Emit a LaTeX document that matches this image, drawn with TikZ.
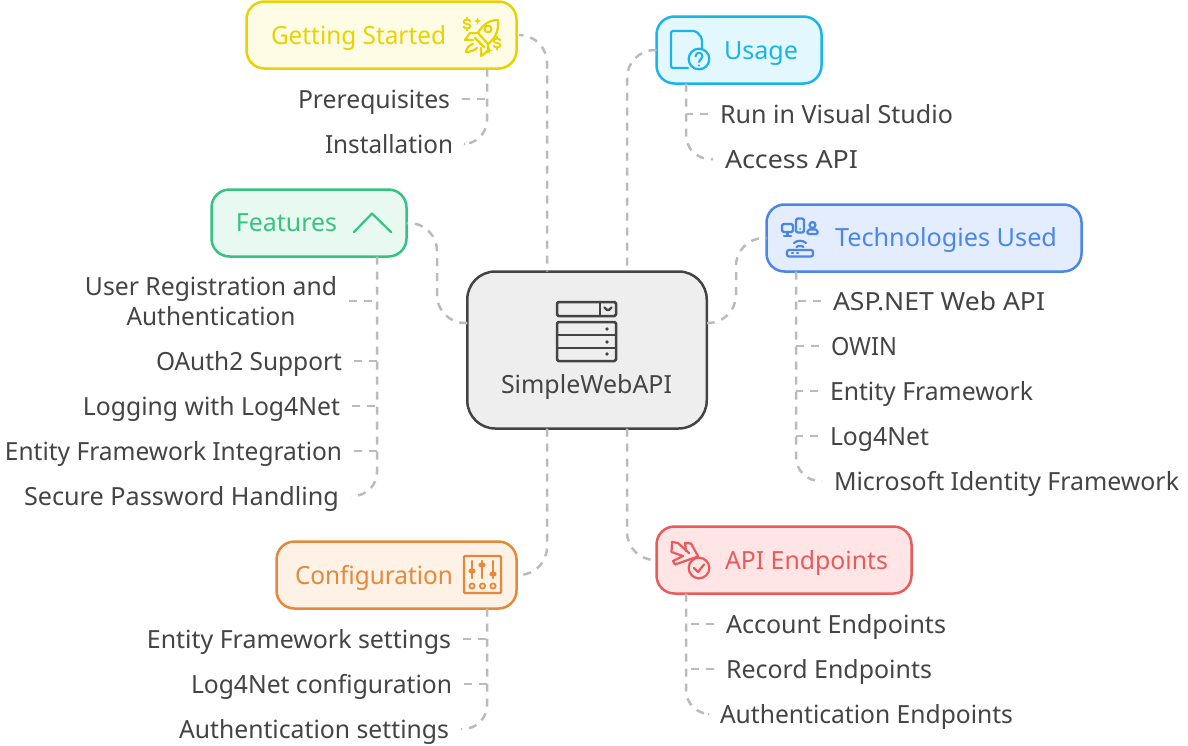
\documentclass[tikz,border=0pt]{standalone}
\usepackage{fontspec}
\usepackage{graphicx}
\setmainfont{Noto Sans}
\definecolor{ink}{HTML}{444444}
\definecolor{dash}{HTML}{BBBBBB}
\definecolor{yl}{HTML}{E8D300}\definecolor{ylf}{HTML}{FFFCE6}
\definecolor{cy}{HTML}{1AB5E8}\definecolor{cyf}{HTML}{E3F7FF}
\definecolor{bl}{HTML}{4A86E8}\definecolor{blf}{HTML}{E3EDFD}
\definecolor{gr}{HTML}{35C47F}\definecolor{grf}{HTML}{E8F9F1}
\definecolor{or}{HTML}{E6883A}\definecolor{orf}{HTML}{FEF1E5}
\definecolor{rd}{HTML}{E85B5B}\definecolor{rdf}{HTML}{FFE5E5}
\newcommand{\fit}[2]{\resizebox{#1pt}{\height}{#2}}
\tikzset{
  x=1pt,y=-1pt,
  box/.style n args={4}{draw=#1,fill=#2,line width=2.5pt,rounded corners=18pt,minimum width=#3,minimum height=#4,inner sep=0pt,outer sep=0pt},
  lab/.style={text=#1,font=\fontsize{25}{30}\selectfont,text height=24.5pt,text depth=6pt,inner ysep=0pt,inner xsep=12pt,outer sep=0pt},
  lab/.default=ink,
  conn/.style={draw=dash,line width=2.5pt,dash pattern=on 8pt off 7pt},
  ic/.style={line width=2.2pt,line join=round,line cap=round},
  dollar/.pic={\draw[ic,line width=1.8pt] (3.5,-2.5) .. controls (3,-5) and (-3.5,-5) .. (-3.5,-2.2) .. controls (-3.5,1) and (3.5,-1) .. (3.5,2.2) .. controls (3.5,5) and (-3,5) .. (-3.5,2.5) (0,-6.5) -- (0,-4.5) (0,4.5) -- (0,6.5);},
  spark/.pic={\fill (0,-3.5) -- (1,-1) -- (3.5,0) -- (1,1) -- (0,3.5) -- (-1,1) -- (-3.5,0) -- (-1,-1) -- cycle;},
}
\begin{document}
\begin{tikzpicture}
\useasboundingbox[fill=white] (0,0) rectangle (1188,745);

% hub connectors sit behind the boxes
\node[box={ink}{black!6.5}{239.5pt}{157pt},rounded corners=28pt] (hub) at (587,350) {};
\node[box={yl}{ylf}{270pt}{67pt}] (gs) at (381.5,35) {};
\node[box={cy}{cyf}{165pt}{67pt}] (us) at (739,50) {};
\node[box={bl}{blf}{315pt}{67pt}] (te) at (924,238) {};
\node[box={gr}{grf}{195pt}{67pt}] (fe) at (309,223) {};
\node[box={or}{orf}{240pt}{67pt}] (co) at (396.5,575) {};
\node[box={rd}{rdf}{255pt}{67pt}] (ap) at (784,560) {};

% box titles
\node[lab=yl] (gsT) at (358.5,35) {\fit{175}{Getting Started}};
\node[lab=cy] (usT) at (761,50) {\fit{74}{Usage}};
\node[lab=bl] (teT) at (946,237) {\fit{222}{Technologies Used}};
\node[lab=gr] (feT) at (286.5,222) {\fit{101}{Features}};
\node[lab=or] (coT) at (374,575) {\fit{158}{Configuration}};
\node[lab=rd] (apT) at (806.5,560) {\fit{163}{API Endpoints}};
\node[lab] (huT) at (586.5,384) {\fit{171}{SimpleWebAPI}};

% leaves
\node[lab] (a1) at (374,99) {\fit{152}{Prerequisites}};
\node[lab] (a2) at (389,144) {\fit{128}{Installation}};
\node[lab] (b1) at (836.5,114) {\fit{233}{Run in Visual Studio}};
\node[lab] (b2) at (791.5,159) {\fit{133}{Access API}};
\node[lab] (c1) at (939,301) {\fit{212}{ASP.NET Web API}};
\node[lab] (c2) at (864,346) {\fit{66}{OWIN}};
\node[lab] (c3) at (931.5,391) {\fit{203}{Entity Framework}};
\node[lab] (c4) at (879.5,436) {\fit{99}{Log4Net}};
\node[lab] (c5) at (1006.5,481) {\fit{345}{Microsoft Identity Framework}};
\node[lab,text height=,text depth=,align=center] (d1) at (211,304.3) {\fit{252}{User Registration and}\strut\\\fit{169}{Authentication}\strut};
\node[lab] (d2) at (249,361) {\fit{186}{OAuth2 Support}};
\node[lab] (d3) at (211.5,406) {\fit{257}{Logging with Log4Net}};
\node[lab] (d4) at (173.5,451) {\fit{337}{Entity Framework Integration}};
\node[lab] (d5) at (181.5,496) {\fit{315}{Secure Password Handling}};
\node[lab] (e1) at (299,639) {\fit{304}{Entity Framework settings}};
\node[lab] (e2) at (321.5,684) {\fit{261}{Log4Net configuration}};
\node[lab] (e3) at (314,729) {\fit{270}{Authentication settings}};
\node[lab] (f1) at (836,624) {\fit{220}{Account Endpoints}};
\node[lab] (f2) at (829,669) {\fit{206}{Record Endpoints}};
\node[lab] (f3) at (866.5,714) {\fit{293}{Authentication Endpoints}};

% hub connectors
\coordinate (hubR) at ([yshift=27pt]hub.east);
\coordinate (hubL) at ([yshift=27pt]hub.west);
\coordinate (kneeR) at (736,300);
\coordinate (kneeL) at (437,300);
\draw[conn,rounded corners=28pt] ([xshift=6pt]gs.east) -| ([xshift=-40pt]hub.north);
\draw[conn,rounded corners=28pt] (us.west) -| ([xshift=40pt]hub.north);
\draw[conn,rounded corners=28pt] (hubR) -- (kneeR |- hubR) -- (te.west -| kneeR) -- (te.west);
\draw[conn,rounded corners=28pt] (hubL) -- (kneeL |- hubL) -- (fe.east -| kneeL) -- (fe.east);
\draw[conn,rounded corners=28pt] ([xshift=-40pt]hub.south) |- (co.east);
\draw[conn,rounded corners=28pt] ([xshift=40pt]hub.south) |- (ap.west);

% trunks
\draw[conn,rounded corners=24pt] ([xshift=105.5pt]gs.south) |- (a2.east);
\draw[conn] (a1.east) -- ++(24,0);
\draw[conn,rounded corners=24pt] ([xshift=-53pt]us.south) |- (b2.west);
\draw[conn] (b1.west) -- (686,114);
\draw[conn,rounded corners=24pt] ([xshift=-128pt]te.south) |- (c5.west);
\draw[conn] (c1.west) -- (796,301);
\draw[conn] (c2.west) -- (796,346);
\draw[conn] (c3.west) -- (796,391);
\draw[conn] (c4.west) -- (796,436);
\draw[conn,rounded corners=24pt] ([xshift=68pt]fe.south) |- (d5.east);
\draw[conn] ([yshift=3.3pt]d1.east) -- (377,301);
\draw[conn] (d2.east) -- (377,361);
\draw[conn] (d3.east) -- (377,406);
\draw[conn] (d4.east) -- (377,451);
\draw[conn,rounded corners=24pt] ([xshift=90.5pt]co.south) |- (e3.east);
\draw[conn] (e1.east) -- (487,639);
\draw[conn] (e2.east) -- (487,684);
\draw[conn,rounded corners=24pt] ([xshift=-98pt]ap.south) |- (f3.west);
\draw[conn] (f1.west) -- (686,624);
\draw[conn] (f2.west) -- (686,669);

% hub icon
\begin{scope}[ic,draw=ink,line width=2.5pt,fill=ink,rounded corners=1.5pt]
\draw (557,302) rectangle (616,316);
\draw (600,302) -- (600,316);
\draw[line width=2.4pt] (604.5,307.5) -- (608,311) -- (611.5,307.5);
\draw (557,322) rectangle (616,361);
\draw (557,335) -- (616,335) (557,348) -- (616,348);
\fill[rounded corners=0pt] (607,329) circle (1.8) (607,342) circle (1.8) (607,354) circle (1.8);
\end{scope}

% rocket
\begin{scope}[ic,draw=yl,text=yl,fill=yl,line width=2.2pt]
\draw (498,20) .. controls (490,20) and (483,24) .. (478,33) -- (488,44) .. controls (496,38) and (499,29) .. (498,20) -- cycle;
\draw (488,29) circle (3.4);
\draw (478,33) -- (470,33) -- (465,40) -- (473,40);
\draw (488,44) -- (488,51) -- (481,56) -- (481,48);
\draw (475,38) -- (484,47);
\draw (473,44) .. controls (469,45) and (466,49) .. (466,52) .. controls (470,52) and (475,50) .. (477,48);
\pic at (467,24) {dollar};
\pic at (497,43) {dollar};
\pic[fill=yl] at (477.5,21) {spark};
\pic[fill=yl] at (489,50.5) {spark};
\end{scope}

% usage icon
\begin{scope}[ic,draw=cy,fill=cy]
\draw[rounded corners=2pt] (688,68) -- (671,68) -- (671,31) -- (696,31) -- (702,38) -- (702,48);
\draw (699,59) circle (10.3);
\draw[line width=2pt] (695.5,56.5) .. controls (695.5,51.5) and (702.5,51.5) .. (702.5,56.5) .. controls (702.5,59) and (699,59) .. (699,62);
\fill (699,65.5) circle (1.2);
\end{scope}

% technologies icon
\begin{scope}[ic,draw=bl,fill=bl,line width=2.2pt]
\draw[rounded corners=1.5pt] (782,224) rectangle (793,232);
\draw (787.5,232) -- (787.5,236) (784,236) -- (791,236);
\draw[rounded corners=1.5pt] (796,218.5) rectangle (804,232.5);
\fill (800,229) circle (1);
\draw (812.5,225) circle (3);
\draw[rounded corners=1.5pt] (807,234) -- (808,229.5) -- (817,229.5) -- (818,234) -- cycle;
\draw (794,243) .. controls (797,240) and (803,240) .. (806,243);
\draw (796.5,247) .. controls (798,245.5) and (802,245.5) .. (803.5,247);
\draw[rounded corners=2pt] (787,250) rectangle (813,256.5);
\draw (792,253.3) -- (793,253.3) (797,253.3) -- (798,253.3);
\end{scope}

% features icon
\draw[ic,draw=gr] (354,232) -- (372,213.5) -- (391,232);

% configuration icon
\begin{scope}[ic,draw=or,fill=or]
\draw[rounded corners=1pt] (464,556) rectangle (501,593);
\draw (472,561) -- (472,578) (482,561) -- (482,578) (493,561) -- (493,578);
\fill (472,571) ellipse (3.6 and 2.6) (482,565) ellipse (3.6 and 2.6) (493,574) ellipse (3.6 and 2.6);
\draw[line width=1.8pt] (472,586) circle (2.6) (482.5,586) circle (2.6) (493,586) circle (2.6);
\end{scope}

% endpoints icon
\begin{scope}[ic,draw=rd]
\draw (672,542) -- (671.5,552) -- (683,556) -- (673,561) -- (675,564.5) -- (698,556.5);
\draw (672,542) -- (678,543) -- (689,553);
\draw (685,543) -- (691,543.5) -- (698,556);
\draw (685,543) -- (686,551);
\draw (699,568) circle (10.3);
\draw (694,568) -- (698,572) -- (704,564.5);
\end{scope}
\end{tikzpicture}
\end{document}
